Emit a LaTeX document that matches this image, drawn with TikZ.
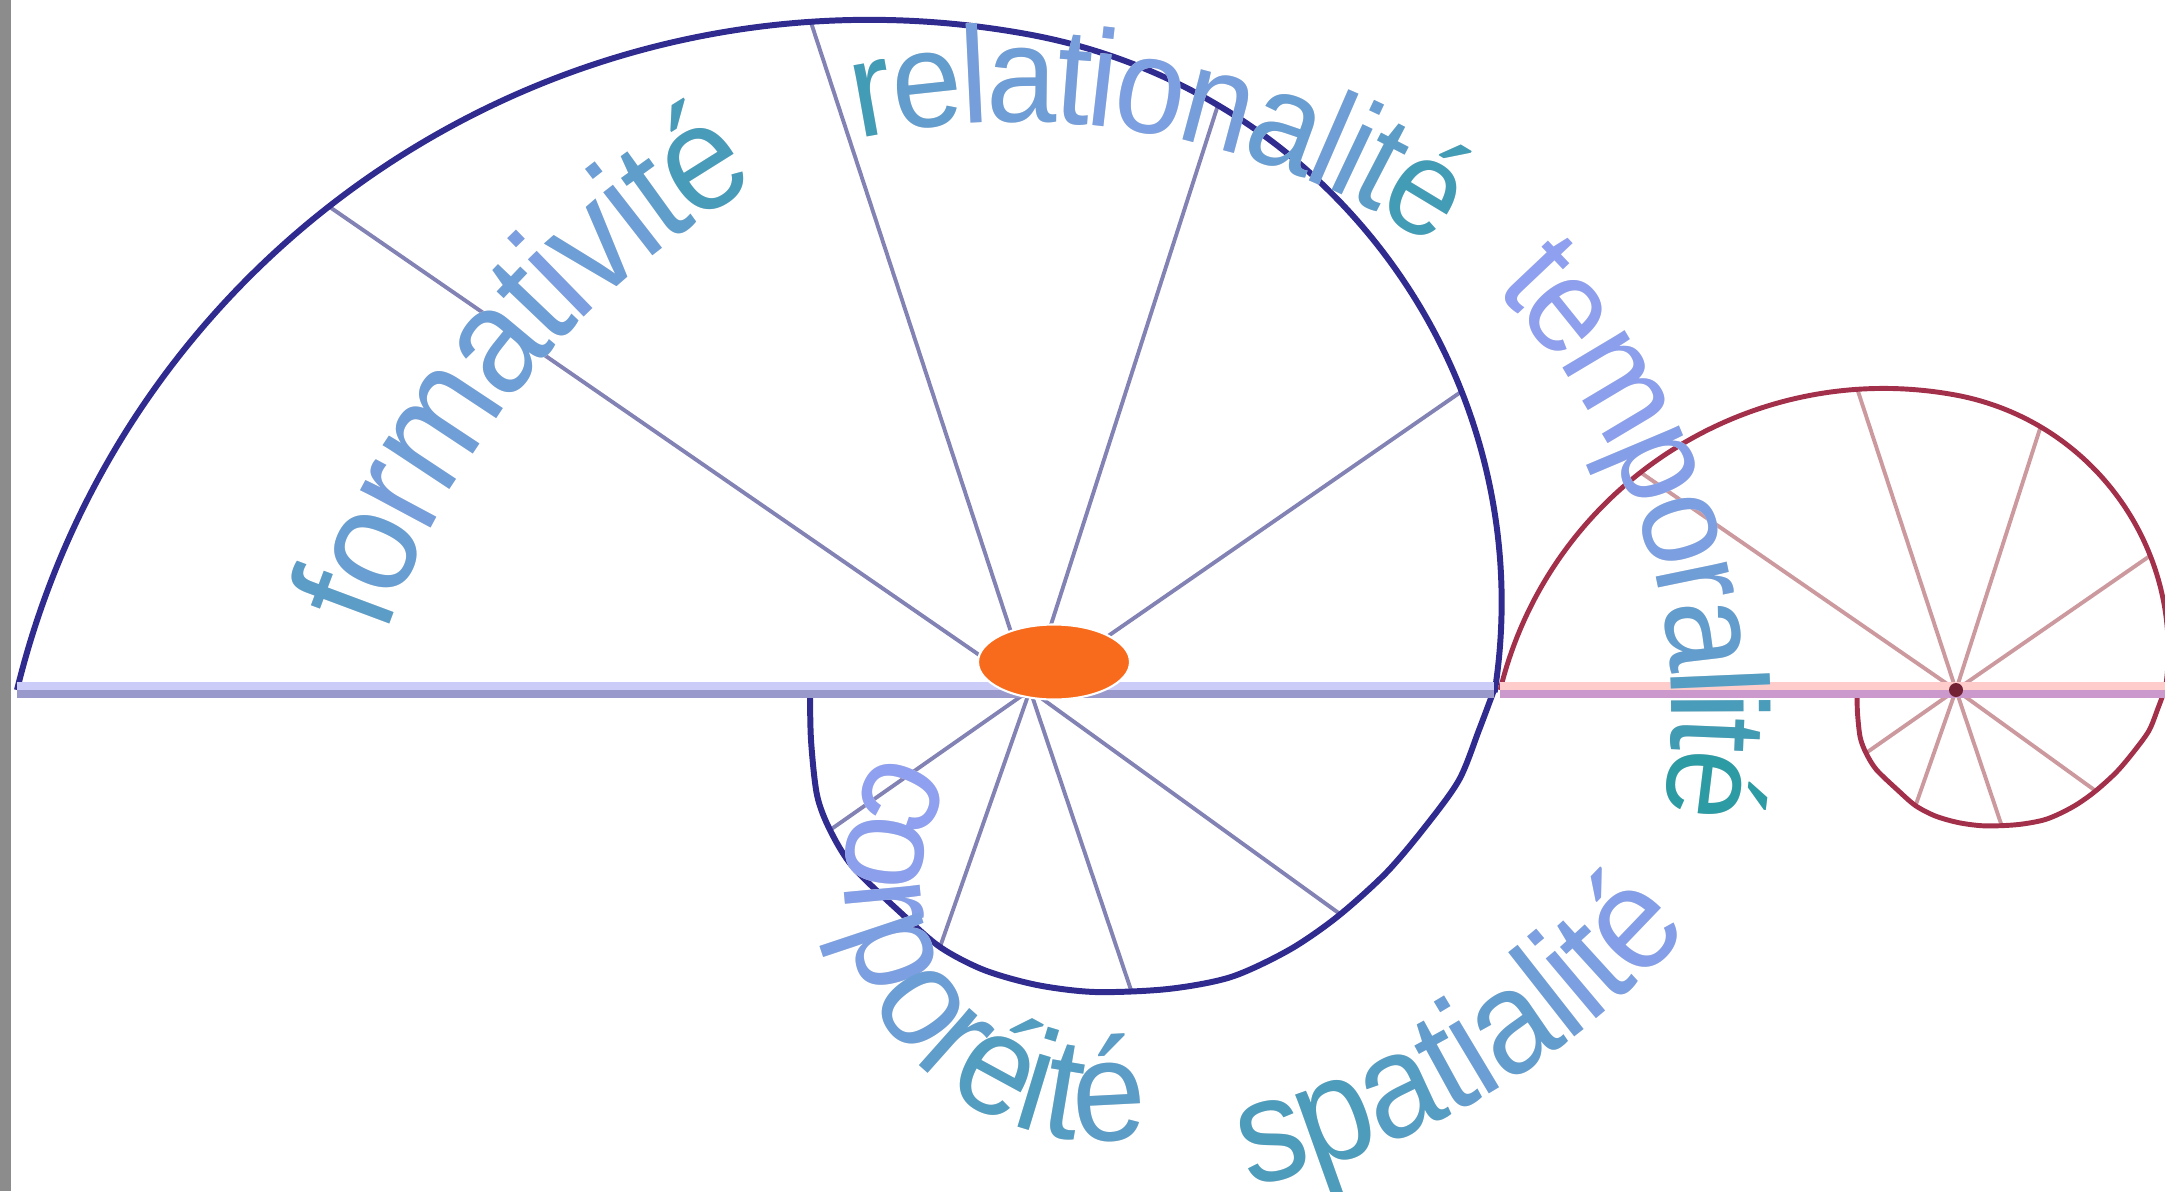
\documentclass[tikz,border=0pt]{standalone}
\usepackage{fontspec}
\usepackage{tikz}
\usetikzlibrary{shapes.geometric, decorations.text}
\newfontfamily\wordfont[FakeStretch=0.92]{Liberation Sans}
\definecolor{rimBlue}{HTML}{2F2B8F}
\definecolor{spokeBlue}{HTML}{8282B4}
\definecolor{axisTop}{HTML}{CCCCF8}
\definecolor{axisBot}{HTML}{9999CC}
\definecolor{rimRed}{HTML}{A3304A}
\definecolor{spokeRed}{HTML}{CC9A9E}
\definecolor{axisPink}{HTML}{FFCCCC}
\definecolor{axisMauve}{HTML}{CC99CC}
\definecolor{coreOrange}{HTML}{F96B1C}
\definecolor{edgeGray}{HTML}{8C8C8C}
\definecolor{tV}{HTML}{9AA0F8}
\definecolor{tT}{HTML}{1E9A98}
\newlength\wordkern
\newcommand\tl[1]{\color{tV!#1!tT}\kern-\wordkern}

\begin{document}
\begin{tikzpicture}[
  rim/.style={draw=rimBlue, line width=1.7pt},
  spoke/.style={draw=spokeBlue, line width=1.1pt},
  axis top/.style={draw=axisTop, line width=2.2pt},
  axis bot/.style={draw=axisBot, line width=2.2pt},
  core/.style={ellipse, fill=coreOrange, draw=white, line width=0.6pt,
               minimum width=1.52cm, minimum height=0.75cm, inner sep=0pt},
  word/.style={decorate, decoration={text along path, text align=fit to path, text={#1}}},
  word shadow/.style={transform canvas={xshift=0.35mm, yshift=-0.55mm}, decorate,
    decoration={text along path, text align=fit to path,
                text={|\color{black!15}\kern-\wordkern|#1}}},
  pics/spiral/.style={code={
    \coordinate (-hub) at (0,0);
    \coordinate (-west) at (-10.13,0);
    \coordinate (-east) at (4.64,0);
    \coordinate (-c1) at (-1.61,-2.08);
    \coordinate (-c2) at (-1.074,0.871);
    \path (-c1) ++(128:8.78) coordinate (-s1);
    \path (-c1) ++(93.8:8.78) coordinate (-s2);
    \path (-c2) ++(59.3:5.78) coordinate (-s3);
    \path (-c2) ++(21.4:5.78) coordinate (-s4);
    \coordinate (-s5) at (3.10,-2.24);
    \coordinate (-s6) at (1.01,-3.00);
    \coordinate (-s7) at (-0.90,-2.57);
    \coordinate (-s8) at (-2.00,-1.40);
    \foreach \k in {1,...,8} \draw[spoke] (-hub) -- (-s\k);
    \draw[rim] (-west) arc[start angle=166.3, end angle=79.7, radius=8.78]
      arc[start angle=79.7, end angle=-8.67, radius=5.78]
      -- plot[smooth] coordinates {(4.64,0) (4.49,-0.40) (4.29,-0.90) (3.95,-1.37)
        (3.56,-1.83) (3.07,-2.27) (2.59,-2.60) (2.01,-2.87) (1.38,-2.99)
        (0.65,-3.02) (0.07,-2.95) (-0.46,-2.80) (-0.90,-2.57) (-1.29,-2.23)
        (-1.77,-1.77) (-2.00,-1.40) (-2.13,-1.05) (-2.19,-0.5) (-2.20,0)};
  }}
]
\useasboundingbox (0,0) rectangle (21.65,11.91);
\fill[edgeGray] (0,0) rectangle (0.11,11.91);

% the two spirals
\pic (big) at (10.30,5.01) {spiral};
\pic[scale=0.45, rim/.style={draw=rimRed, line width=1.4pt},
     spoke/.style={draw=spokeRed, line width=1.1pt}] (red) at (19.56,5.01) {spiral};

% axis
\draw[axis top] ([yshift=1.1pt]big-west) -- ([yshift=1.1pt]big-east);
\draw[axis bot] ([yshift=-1.1pt]big-west) -- ([yshift=-1.1pt]big-east);
\draw[axis top, draw=axisPink] ([yshift=1.1pt]red-west) -- ([yshift=1.1pt]red-east);
\draw[axis bot, draw=axisMauve] ([yshift=-1.1pt]red-west) -- ([yshift=-1.1pt]red-east);

\fill[rimRed!70!black] (red-hub) circle (0.07);
\node[core] (core) at (10.54,5.29) {};

% words
\coordinate (formC) at (11.72,2.88);
\coordinate (relC) at (10.17,3.11);
\coordinate (tempC) at (10.79,4.77);
\coordinate (corpC) at (11.01,3.06);
\coordinate (spatC) at (10.78,8.03);

{\wordfont\fontsize{43pt}{43pt}\selectfont\setlength\wordkern{3pt}
\path[word shadow={formativité}]
  (formC) ++(160.5:8.30) arc[start angle=160.5, end angle=119.8, radius=8.30];
\path[word={|\tl{50}|f|\tl{60}|o|\tl{70}|r|\tl{66}|m|\tl{64}|a|\tl{64}|t|\tl{74}|i|\tl{64}|v|\tl{64}|i|\tl{52}|t|\tl{34}|é}]
  (formC) ++(160.5:8.30) arc[start angle=160.5, end angle=119.8, radius=8.30];
}
{\wordfont\fontsize{39pt}{39pt}\selectfont\setlength\wordkern{2.5pt}
\path[word shadow={relationalité}]
  (relC) ++(101.4:7.58) arc[start angle=101.4, end angle=56.6, radius=7.58];
\path[word={|\tl{30}|r|\tl{55}|e|\tl{70}|l|\tl{65}|a|\tl{70}|t|\tl{75}|i|\tl{75}|o|\tl{70}|n|\tl{60}|a|\tl{65}|l|\tl{60}|i|\tl{50}|t|\tl{30}|é}]
  (relC) ++(101.4:7.58) arc[start angle=101.4, end angle=56.6, radius=7.58];
}
{\wordfont\fontsize{39pt}{39pt}\selectfont\setlength\wordkern{3pt}
\path[word shadow={temporalité}]
  (tempC) ++(44.6:5.93) arc[start angle=44.6, end angle=-9.8, radius=5.93];
\path[word={|\tl{92}|t|\tl{90}|e|\tl{88}|m|\tl{82}|p|\tl{75}|o|\tl{65}|r|\tl{55}|a|\tl{45}|l|\tl{35}|i|\tl{28}|t|\tl{12}|é}]
  (tempC) ++(44.6:5.93) arc[start angle=44.6, end angle=-9.8, radius=5.93];
}
{\wordfont\fontsize{41pt}{41pt}\selectfont\setlength\wordkern{1.5pt}
\path[word shadow={corporéité}]
  (corpC) ++(149.5:2.56) arc[start angle=149.5, end angle=280.6, radius=2.56];
\path[word={|\tl{92}|c|\tl{88}|o|\tl{82}|r|\tl{75}|p|\tl{62}|o|\tl{52}|r|\tl{42}|é|\tl{40}|i|\tl{45}|t|\tl{50}|é}]
  (corpC) ++(149.5:2.56) arc[start angle=149.5, end angle=280.6, radius=2.56];
}
{\wordfont\fontsize{42pt}{42pt}\selectfont\setlength\wordkern{2pt}
\path[word shadow={spatialité}]
  (spatC) ++(-77.4:8.17) arc[start angle=-77.4, end angle=-41.4, radius=8.17];
\path[word={|\tl{38}|s|\tl{38}|p|\tl{45}|a|\tl{55}|t|\tl{62}|i|\tl{55}|a|\tl{65}|l|\tl{75}|i|\tl{75}|t|\tl{82}|é}]
  (spatC) ++(-77.4:8.17) arc[start angle=-77.4, end angle=-41.4, radius=8.17];
}
\end{tikzpicture}
\end{document}
